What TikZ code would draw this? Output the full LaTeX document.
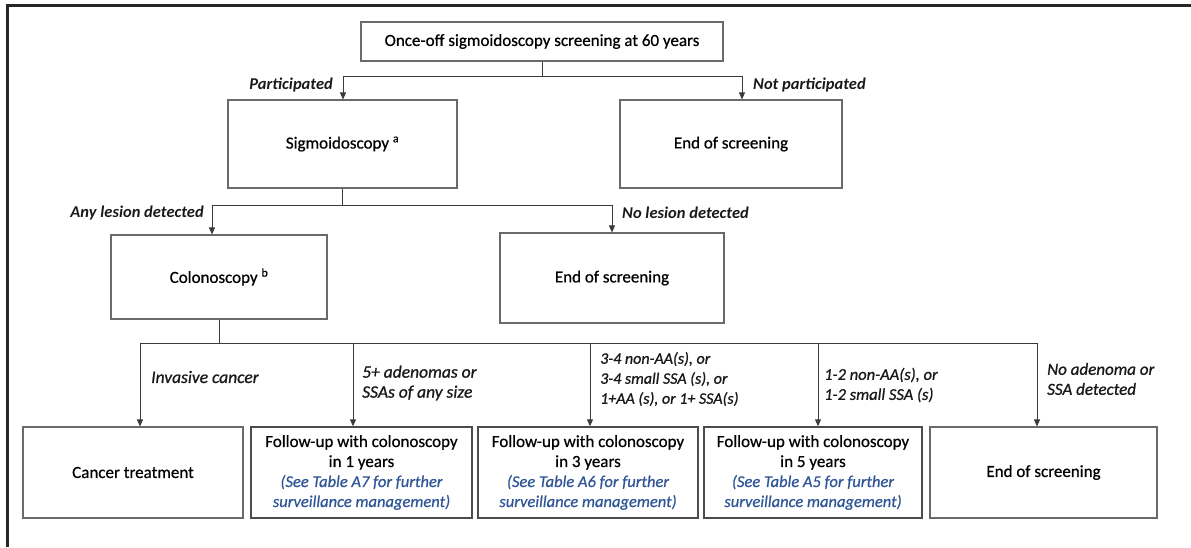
\documentclass[tikz,border=0pt]{standalone}
\usepackage{fontspec}
\setmainfont{Carlito}
\newfontfamily\boxfont[RawFeature={embolden=0.6}]{Carlito}
\newfontfamily\lblfont[RawFeature={embolden=0.9}]{Carlito}
\usetikzlibrary{arrows.meta}
\definecolor{lineg}{HTML}{3A3A3A}
\definecolor{boxg}{HTML}{6A6A6A}
\definecolor{noteblue}{HTML}{2F5597}
\newcommand{\bluenote}[1]{{\color{noteblue}\fontsize{16.5}{20}\selectfont\itshape #1}}
\tikzset{
  box/.style={draw=boxg, line width=1.1pt, fill=white, inner sep=2pt, align=center,
    font=\boxfont\fontsize{17}{20}\selectfont, text=black},
  fubox/.style={box, draw=black!70, line width=1.4pt},
  conn/.style={draw=lineg, line width=0.9pt},
  arr/.style={conn, -{Triangle[width=6pt,length=7pt]}},
  lbl/.style={font=\fontsize{16.5}{20}\selectfont\bfseries\itshape, inner sep=0pt, align=left, text=black!90},
  lbllight/.style={font=\lblfont\fontsize{#1}{20}\selectfont\itshape, inner sep=0pt, align=left, text=black!90},
  lbllight/.default=17.5
}
\begin{document}
\begin{tikzpicture}[x=1pt, y=-1pt]
\useasboundingbox (0,0) rectangle (1191,547);
% outer frame (left and top only)
\draw[line width=3pt, black!85] (7.5,547) -- (7.5,5) -- (1191,5);

% nodes
\node[box, minimum width=362pt, minimum height=39pt] (top) at (542,41.5) {Once-off sigmoidoscopy screening at 60 years};
\node[box, minimum width=229pt, minimum height=88pt] (sig) at (342.5,144) {Sigmoidoscopy \textsuperscript{a}};
\node[box, minimum width=222pt, minimum height=88pt] (endA) at (731,144) {End of screening};
\node[box, minimum width=216pt, minimum height=84pt] (col) at (219,277) {Colonoscopy \textsuperscript{b}};
\node[box, minimum width=224pt, minimum height=90pt] (endB) at (612,278) {End of screening};

\node[box, minimum width=220pt, minimum height=91pt] (can) at (133,472.5) {Cancer treatment};
\node[fubox, minimum width=221pt, minimum height=91pt] (fu1) at (361.5,472.5)
  {Follow-up with colonoscopy\\in 1 years\\\bluenote{(See Table A7 for further}\\\bluenote{surveillance management)}};
\node[fubox, minimum width=220pt, minimum height=91pt] (fu3) at (588,472.5)
  {Follow-up with colonoscopy\\in 3 years\\\bluenote{(See Table A6 for further}\\\bluenote{surveillance management)}};
\node[fubox, minimum width=218pt, minimum height=91pt] (fu5) at (813,472.5)
  {Follow-up with colonoscopy\\in 5 years\\\bluenote{(See Table A5 for further}\\\bluenote{surveillance management)}};
\node[box, minimum width=227pt, minimum height=91pt] (endC) at (1043.5,472.5) {End of screening};

% junction coordinates
\coordinate (jL) at (343,76);
\coordinate (jR) at (742,76);
\coordinate (mL) at (212,205);
\coordinate (mR) at (612,205);
\coordinate (b1) at (140,343);
\coordinate (b2) at (353,343);
\coordinate (b3) at (590,343);
\coordinate (b4) at (818,343);
\coordinate (b5) at (1037,343);

% connectors: level 1
\draw[conn] (top.south) -- (top.south |- jL);
\draw[conn] (jL) -- (jR);
\draw[arr] (jL) -- (jL |- sig.north);
\draw[arr] (jR) -- (jR |- endA.north);
% level 2
\draw[conn] (sig.south) -- (sig.south |- mL);
\draw[conn] (mL) -- (mR);
\draw[arr] (mL) -- (mL |- col.north);
\draw[arr] (mR) -- (mR |- endB.north);
% level 3
\draw[conn] (col.south) -- (col.south |- b1);
\draw[conn] (b1) -- (b5);
\draw[arr] (b1) -- (b1 |- can.north);
\draw[arr] (b2) -- (b2 |- fu1.north);
\draw[arr] (b3) -- (b3 |- fu3.north);
\draw[arr] (b4) -- (b4 |- fu5.north);
\draw[arr] (b5) -- (b5 |- endC.north);

% labels
\node[lbl, anchor=east] (lp) at (333,85) {Participated};
\node[lbl, anchor=west] (lnp) at (753,85) {Not participated};
\node[lbl, anchor=east] (lany) at (204,213) {Any lesion detected};
\node[lbl, anchor=west] (lno) at (622,213) {No lesion detected};
\node[lbllight, anchor=west] (linv) at (151,377) {Invasive cancer};
\node[lbllight, anchor=west] (l5) at (362,383) {5+ adenomas or\\SSAs of any size};
\node[lbllight=16, anchor=west] (l34) at (600,379) {3-4 non-AA(s), or\\3-4 small SSA (s), or\\1+AA (s), or 1+ SSA(s)};
\node[lbllight=16.5, anchor=west] (l12) at (824,385) {1-2 non-AA(s), or\\1-2 small SSA (s)};
\node[lbllight=17, anchor=west] (lnone) at (1047,379) {No adenoma or\\SSA detected};
\end{tikzpicture}
\end{document}
